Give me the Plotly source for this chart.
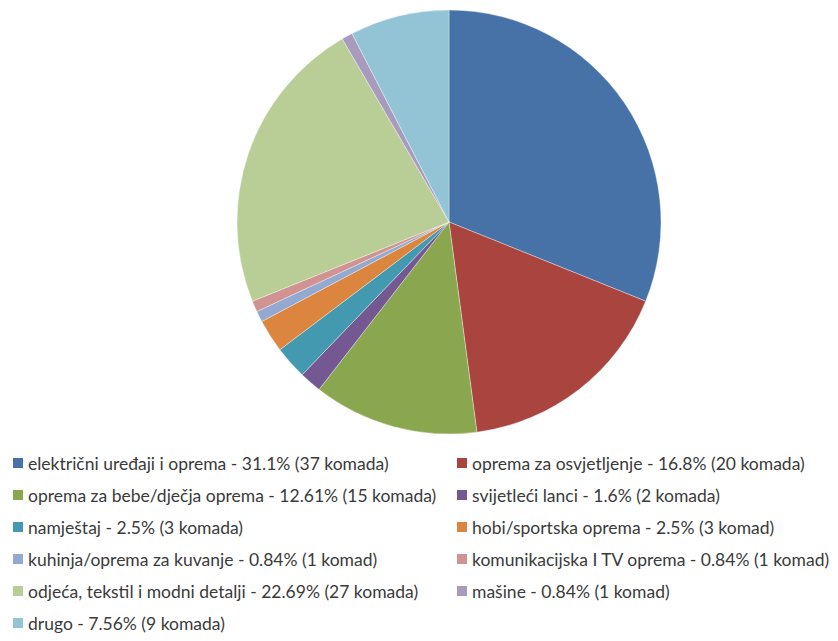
import plotly.graph_objects as go

# categories, counts and legend labels
categories = [
    "električni uređaji i oprema",
    "oprema za osvjetljenje",
    "oprema za bebe/dječja oprema",
    "svijetleći lanci",
    "namještaj",
    "hobi/sportska oprema",
    "kuhinja/oprema za kuvanje",
    "komunikacijska I TV oprema",
    "odjeća, tekstil i modni detalji",
    "mašine",
    "drugo",
]
counts = [37, 20, 15, 2, 3, 3, 1, 1, 27, 1, 9]
pct_labels = ["31.1%", "16.8%", "12.61%", "1.6%", "2.5%", "2.5%",
              "0.84%", "0.84%", "22.69%", "0.84%", "7.56%"]
unit_labels = ["komada", "komada", "komada", "komada", "komada", "komad",
               "komad", "komad", "komada", "komad", "komada"]

colors = ["#4672a8", "#a9443f", "#8aa74f", "#735891", "#4399b0", "#dc853e",
          "#93a9d0", "#d19392", "#b9cd96", "#a99bbd", "#92c4d6"]

legend_names = [
    f"{c} - {p} ({n} {u})"
    for c, p, n, u in zip(categories, pct_labels, counts, unit_labels)
]

# the page body keeps its default 8px margin, so the figure is 16px smaller
W, H = 822, 625

fig = go.Figure(
    go.Pie(
        labels=categories,
        values=counts,
        sort=False,
        direction="clockwise",
        rotation=0,
        textinfo="none",
        hovertext=legend_names,
        hoverinfo="text",
        marker=dict(colors=colors, line=dict(color="rgba(255,255,255,0.6)", width=0.6)),
        domain=dict(x=[0.2774, 0.7956], y=[0.3184, 0.9968]),
        showlegend=False,
    )
)

# two-column legend below the pie, built from the label list
col_x = [5, 449]      # left edge of the colour key, px
row_y0, row_dy = 455, 32
key = 10
for i, (name, color) in enumerate(zip(legend_names, colors)):
    col, row = i % 2, i // 2
    x0 = col_x[col]
    yc = row_y0 + row * row_dy
    fig.add_shape(
        type="rect", xref="paper", yref="paper",
        x0=x0 / W, x1=(x0 + key) / W,
        y0=1 - (yc + key / 2) / H, y1=1 - (yc - key / 2) / H,
        fillcolor=color, line=dict(width=0),
    )
    fig.add_annotation(
        x=(x0 + key + 3) / W, y=1 - yc / H,
        xref="paper", yref="paper",
        xanchor="left", yanchor="middle",
        text=name, showarrow=False,
        font=dict(family="Lato, 'Open Sans', sans-serif", size=17.5, color="#3a3a3a"),
    )

fig.update_layout(
    width=W,
    height=H,
    margin=dict(l=0, r=0, t=0, b=0, autoexpand=False),
    paper_bgcolor="white",
    plot_bgcolor="white",
    showlegend=False,
)

fig.write_html("out.html")
